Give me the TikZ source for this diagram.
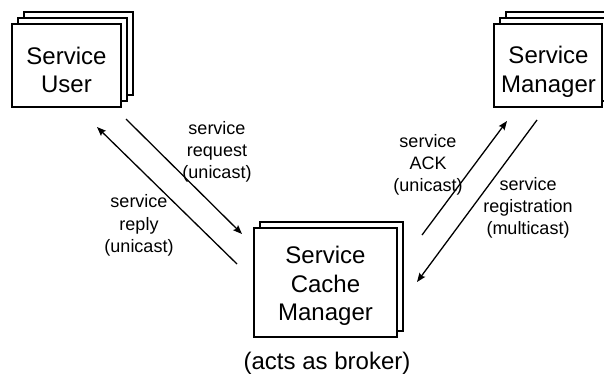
\documentclass[tikz,border=0pt]{standalone}
\usepackage{fontspec}
\setmainfont{Liberation Sans}
\usetikzlibrary{arrows.meta}
\tikzset{
  stackbox/.style={draw=black, fill=white, line width=1.8pt},
  bigtext/.style={align=center, inner sep=0pt, font=\fontsize{24}{28.6}\selectfont},
  lbl/.style={align=center, inner sep=0pt, font=\fontsize{18}{22.3}\selectfont},
  msg/.style={line width=1.3pt, -{Stealth[length=9pt,width=7pt,inset=1.5pt]}}
}
\begin{document}
\begin{tikzpicture}[x=1pt,y=-1pt]
\useasboundingbox (0,0) rectangle (604,376);
\clip (0,0) rectangle (604,376);
% Service User stack
\draw[stackbox] (24,12) rectangle (133,95);
\draw[stackbox] (18,18) rectangle (127,101);
\node[stackbox, minimum width=109pt, minimum height=83pt, inner sep=0pt] (user) at (66.5,65.5) {};
\node[bigtext] (usertxt) at (66.5,70) {Service\\User};
% Service Manager stack
\draw[stackbox] (506,12) rectangle (615,95);
\draw[stackbox] (500,18) rectangle (609,101);
\node[stackbox, minimum width=108pt, minimum height=83pt, inner sep=0pt] (mgr) at (548,65.5) {};
\node[bigtext] (mgrtxt) at (548.5,72) {Service\\Manager};
% Service Cache Manager stack
\draw[stackbox] (260,222) rectangle (402.7,330.7);
\node[stackbox, minimum width=142.7pt, minimum height=108.7pt, inner sep=0pt] (scm) at (325.3,282.3) {};
\node[bigtext] (scmtxt) at (325.5,286) {Service\\Cache\\Manager};
\node[bigtext] (broker) at (327,363) {(acts as broker)};
% connector end points
\coordinate (reqS) at (126,119);
\coordinate (reqE) at (242,234);
\coordinate (repS) at (237,264);
\coordinate (repE) at (97,127);
\coordinate (ackS) at (422,235);
\coordinate (ackE) at (507,121);
\coordinate (regS) at (537,120);
\coordinate (regE) at (417,282);
\draw[msg] (reqS) -- (reqE);
\draw[msg] (repS) -- (repE);
\draw[msg] (ackS) -- (ackE);
\draw[msg] (regS) -- (regE);
% labels
\node[lbl] (lreq) at (217,152) {service\\request\\(unicast)};
\node[lbl] (lrep) at (139,225.5) {service\\reply\\(unicast)};
\node[lbl] (lack) at (428,165) {service\\ACK\\(unicast)};
\node[lbl] (lreg) at (528,208) {service\\registration\\(multicast)};
\end{tikzpicture}
\end{document}
